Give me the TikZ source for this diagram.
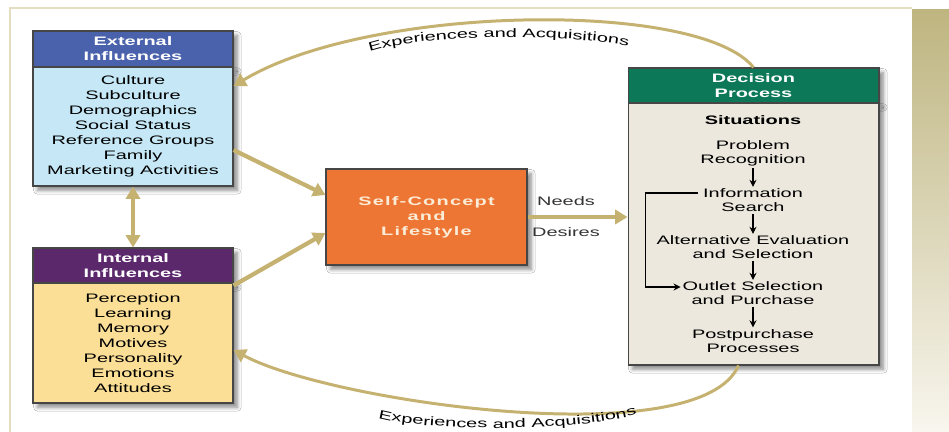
\documentclass[tikz,border=0pt]{standalone}
\usepackage{fontspec}
\setmainfont{Liberation Sans}[FakeStretch=1.62]
\newfontfamily\spacedfont{Liberation Sans}[FakeStretch=1.62,LetterSpace=10]
\usetikzlibrary{arrows.meta,shadows.blur,decorations.text}

\definecolor{tanline}{RGB}{198,178,112}
\definecolor{framebeige}{RGB}{228,222,192}
\definecolor{bandtop}{RGB}{190,181,128}
\definecolor{bandbot}{RGB}{248,246,238}
\definecolor{boxline}{RGB}{70,70,70}
\definecolor{extblue}{RGB}{74,98,172}
\definecolor{extbody}{RGB}{198,232,246}
\definecolor{intpurple}{RGB}{92,40,108}
\definecolor{intbody}{RGB}{252,223,150}
\definecolor{selforange}{RGB}{238,118,52}
\definecolor{selftext}{RGB}{250,236,214}
\definecolor{decgreen}{RGB}{12,120,88}
\definecolor{decbody}{RGB}{236,232,222}

\begin{document}
\begin{tikzpicture}[x=0.02cm, y=-0.02cm,
    every node/.style={font=\fontsize{7}{8.5}\selectfont},
    shadowed/.style={blur shadow={shadow blur steps=6, shadow xshift=2.5pt, shadow yshift=-2.5pt, shadow opacity=45}},
    head/.style={draw=boxline, line width=0.6pt, shadowed, text=white, align=center,
        inner sep=0pt, font=\fontsize{7}{8.5}\selectfont\bfseries},
    body/.style={draw=boxline, line width=0.6pt, shadowed, align=center, inner sep=0pt},
    stepnode/.style={align=center, inner sep=1pt, font=\fontsize{7}{8}\selectfont},
    tanarrow/.style={draw=tanline, line width=2.4pt, -{Triangle[length=7pt,width=8pt]}},
    arcarrow/.style={draw=tanline, line width=1.7pt, -{Triangle[length=7pt,width=8pt]}},
    steparrow/.style={line width=0.7pt, -{Stealth[length=4pt,width=4pt]}},
    arclabel/.style={decorate, decoration={text along path, text align={center},
        text={|\fontsize{7}{8}\selectfont|Experiences and Acquisitions}}}
]

% Background
\path[use as bounding box, fill=white] (0,0) rectangle (949,432);
\shade[top color=bandtop, bottom color=bandbot] (912,10) rectangle (949,432);
\draw[framebeige, line width=1.6pt] (10,432) -- (10,8) -- (912,8);

% Boxes
\node[head, fill=extblue, minimum width=4cm, minimum height=0.72cm] (exthead) at (133,49) {External\\Influences};
\node[body, fill=extbody, minimum width=4cm, minimum height=2.38cm] (extbody) at (133,126.5)
    {Culture\\Subculture\\Demographics\\Social Status\\Reference Groups\\Family\\Marketing Activities};

\node[head, fill=intpurple, minimum width=4cm, minimum height=0.7cm] (inthead) at (133,265.5) {Internal\\Influences};
\node[body, fill=intbody, minimum width=4cm, minimum height=2.4cm] (intbody) at (133,343)
    {Perception\\Learning\\Memory\\Motives\\Personality\\Emotions\\Attitudes};

\node[body, fill=selforange, text=selftext, minimum width=4.02cm, minimum height=1.92cm,
    font=\fontsize{7}{8.5}\selectfont\spacedfont\bfseries] (self) at (426.5,217) {Self-Concept\\and\\Lifestyle};

\node[head, fill=decgreen, minimum width=5.02cm, minimum height=0.7cm] (dechead) at (753.5,85.5) {Decision\\Process};
\node[body, fill=decbody, minimum width=5.02cm, minimum height=5.24cm] (decbody) at (753.5,234) {};

% Decision steps
\node[stepnode] (situ) at (753,120) {\bfseries Situations};
\node[stepnode] (prob) at (753,153.5) {Problem\\Recognition};
\node[stepnode] (info) at (753,200.5) {Information\\Search};
\node[stepnode] (alt) at (753,247.5) {Alternative Evaluation\\and Selection};
\node[stepnode] (outl) at (753,293.5) {Outlet Selection\\and Purchase};
\node[stepnode] (post) at (753,341) {Postpurchase\\Processes};

\draw[steparrow] (prob) -- (info);
\draw[steparrow] (info) -- (alt);
\draw[steparrow] (alt) -- (outl);
\draw[steparrow] (outl) -- (post);
\draw[steparrow] ([xshift=-2pt,yshift=0.15cm]info.west) -- ++(-52,0) |- ([yshift=0.13cm]outl.west);

% Influences into self-concept
\draw[tanarrow] ([yshift=-0.47cm]extbody.east) -- ([yshift=0.44cm]self.west);
\draw[tanarrow] ([yshift=-0.04cm]inthead.south east) -- ([yshift=-0.32cm]self.west);
\draw[tanarrow, {Triangle[length=7pt,width=8pt]}-{Triangle[length=7pt,width=8pt]}] (extbody.south) -- (inthead.north);

% Needs and desires
\draw[tanarrow] (self.east) -- (self.east -| decbody.west);
\node[text=black!80] (needs) at (566,201) {Needs};
\node[text=black!80] (desires) at (566,232) {Desires};

% Experiences and acquisitions
\draw[arcarrow] (dechead.north) .. controls (700,0) and (370,4) .. ([yshift=0.81cm]extbody.east);
\draw[arcarrow] ([xshift=-0.3cm]decbody.south) .. controls (700,455) and (330,402) .. ([yshift=-0.14cm]intbody.east);
\path[arclabel] (366,53) .. controls (420,33) and (570,33) .. (632,47);
\path[arclabel] (378,418) .. controls (430,432) and (580,432) .. (637,414);
\end{tikzpicture}
\end{document}
